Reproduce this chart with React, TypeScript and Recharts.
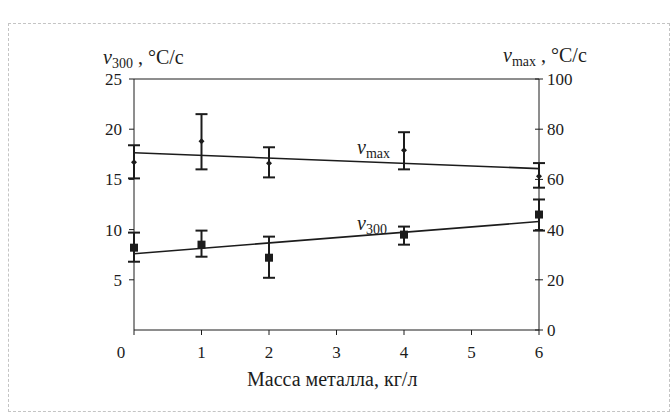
import React from "react";
import {
  ComposedChart,
  Scatter,
  Line,
  XAxis,
  YAxis,
  ErrorBar,
  ReferenceLine,
} from "recharts";

// масса металла, кг/л
const massX = [0, 1, 2, 4, 6];

// v300, °C/c (левая ось)
const v300 = [8.2, 8.5, 7.2, 9.5, 11.5];
const v300Low = [6.8, 7.3, 5.2, 8.5, 9.9];
const v300High = [9.7, 9.9, 9.3, 10.3, 13.0];

// vmax, °C/c (правая ось)
const vmax = [66.8, 75.2, 66.4, 71.6, 61.3];
const vmaxLow = [60.4, 64, 60.8, 64, 56.7];
const vmaxHigh = [73.6, 86, 72.8, 78.8, 66.5];

// линии тренда
const trendX = [0, 6];
const v300Trend = [7.6, 10.8];
const vmaxTrend = [70.6, 64.3];

const xTicks = [0, 1, 2, 3, 4, 5, 6];
const leftTicks = [5, 10, 15, 20, 25];
const rightTicks = [0, 20, 40, 60, 80, 100];

const v300Data = massX.map((x, i) => ({
  x,
  y: v300[i],
  err: [v300[i] - v300Low[i], v300High[i] - v300[i]],
}));
const vmaxData = massX.map((x, i) => ({
  x,
  y: vmax[i],
  err: [vmax[i] - vmaxLow[i], vmaxHigh[i] - vmax[i]],
}));
const v300TrendData = trendX.map((x, i) => ({ x, y: v300Trend[i] }));
const vmaxTrendData = trendX.map((x, i) => ({ x, y: vmaxTrend[i] }));

const FONT = '"Liberation Serif", "Times New Roman", Times, serif';
const INK = "#1c1c1c";

const SquareDot = (props: any) => (
  <rect x={props.cx - 4} y={props.cy - 4} width={8} height={8} fill={INK} />
);

const SmallDot = (props: any) => (
  <polygon
    points={`${props.cx},${props.cy - 3} ${props.cx + 3},${props.cy} ${props.cx},${props.cy + 3} ${props.cx - 3},${props.cy}`}
    fill={INK}
  />
);

const XTick = (props: any) => {
  const { x, y, payload } = props;
  const shift = payload.value === 0 ? -13 : 0;
  return (
    <text
      x={x + shift}
      y={y}
      dy="0.71em"
      textAnchor="middle"
      fill={INK}
      fontSize={17}
      style={{ fontFamily: FONT }}
    >
      {payload.value}
    </text>
  );
};

const LeftTick = (props: any) => {
  const { x, y, payload } = props;
  return (
    <text x={x} y={y} dy="0.35em" textAnchor="end" fill={INK} fontSize={17} style={{ fontFamily: FONT }}>
      {payload.value}
    </text>
  );
};

const RightTick = (props: any) => {
  const { x, y, payload } = props;
  // ось на x - 8 (tickSize 4 + tickMargin 4)
  return (
    <g>
      <line x1={x - 12} x2={x - 4} y1={y} y2={y} stroke={INK} strokeWidth={1} />
      <text x={x} y={y} dy="0.35em" textAnchor="start" fill={INK} fontSize={17} style={{ fontFamily: FONT }}>
        {payload.value}
      </text>
    </g>
  );
};

const label: React.CSSProperties = {
  position: "absolute",
  fontFamily: FONT,
  fontSize: 20,
  lineHeight: "24px",
  color: INK,
  whiteSpace: "nowrap",
};
const sub: React.CSSProperties = { fontSize: 14, position: "relative", top: 4 };

export default function App() {
  return (
    <div
      style={{
        position: "absolute",
        left: 0,
        top: 0,
        width: 672,
        height: 414,
        background: "#fff",
        fontFamily: FONT,
      }}
    >
      <div
        style={{
          position: "absolute",
          left: 8,
          top: 23,
          width: 660,
          height: 387,
          border: "1px dashed #c4c4c4",
        }}
      />
      <ComposedChart
        width={672}
        height={414}
        margin={{ top: 79, right: 93, bottom: 54, left: 94 }}
        style={{ position: "absolute", left: 0, top: 0 }}
      >
        <XAxis
          type="number"
          dataKey="x"
          domain={[0, 6]}
          ticks={xTicks}
          height={30}
          tickSize={5}
          tickMargin={11}
          stroke={INK}
          tick={<XTick />}
        />
        <YAxis
          yAxisId="left"
          type="number"
          domain={[0, 25]}
          ticks={leftTicks}
          width={40}
          tickSize={5}
          tickMargin={7}
          stroke={INK}
          tick={<LeftTick />}
        />
        <YAxis
          yAxisId="right"
          orientation="right"
          type="number"
          domain={[0, 100]}
          ticks={rightTicks}
          width={40}
          tickSize={4}
          tickMargin={4}
          tickLine={false}
          stroke={INK}
          tick={<RightTick />}
        />
        <ReferenceLine yAxisId="left" y={25} stroke={INK} strokeWidth={1} />
        <Line
          yAxisId="left"
          data={v300TrendData}
          dataKey="y"
          stroke={INK}
          strokeWidth={1.6}
          dot={false}
          isAnimationActive={false}
        />
        <Line
          yAxisId="right"
          data={vmaxTrendData}
          dataKey="y"
          stroke={INK}
          strokeWidth={1.6}
          dot={false}
          isAnimationActive={false}
        />
        <Scatter yAxisId="left" data={v300Data} dataKey="y" shape={SquareDot} isAnimationActive={false}>
          <ErrorBar dataKey="err" direction="y" width={6} stroke={INK} strokeWidth={2} />
        </Scatter>
        <Scatter yAxisId="right" data={vmaxData} dataKey="y" shape={SmallDot} isAnimationActive={false}>
          <ErrorBar dataKey="err" direction="y" width={6} stroke={INK} strokeWidth={2} />
        </Scatter>
      </ComposedChart>

      <div style={{ ...label, left: 103, top: 45 }}>
        <i>v</i>
        <span style={sub}>300</span> , °C/c
      </div>
      <div style={{ ...label, left: 503, top: 43 }}>
        <i>v</i>
        <span style={sub}>max</span> , °C/c
      </div>
      <div style={{ ...label, left: 357, top: 135 }}>
        <i>v</i>
        <span style={sub}>max</span>
      </div>
      <div style={{ ...label, left: 357, top: 211 }}>
        <i>v</i>
        <span style={sub}>300</span>
      </div>
      <div style={{ ...label, left: 247, top: 367 }}>Масса металла, кг/л</div>
    </div>
  );
}
